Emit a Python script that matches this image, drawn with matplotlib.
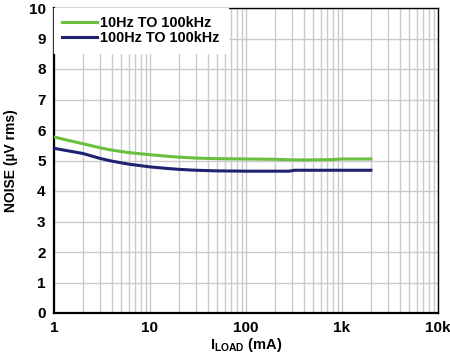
import matplotlib
matplotlib.use("Agg")
import matplotlib.pyplot as plt
from matplotlib.ticker import FixedLocator, NullFormatter

# load current (mA) and noise (uV rms)
load_10hz = [1, 1.5, 2, 3, 4, 6, 8, 10, 15, 20, 30, 50, 100, 200, 300, 500, 800, 1000, 2000]
noise_10hz = [5.77, 5.64, 5.55, 5.42, 5.34, 5.26, 5.22, 5.19, 5.14, 5.11, 5.08, 5.06, 5.05, 5.04, 5.02, 5.02, 5.03, 5.05, 5.05]

load_100hz = [1, 1.5, 2, 3, 4, 6, 8, 10, 15, 20, 30, 50, 100, 200, 280, 320, 500, 1000, 2000]
noise_100hz = [5.40, 5.30, 5.23, 5.07, 4.98, 4.88, 4.83, 4.79, 4.74, 4.71, 4.68, 4.66, 4.65, 4.65, 4.65, 4.68, 4.68, 4.68, 4.68]

x_ticks = [1, 10, 100, 1000, 10000]
x_labels = ["1", "10", "100", "1k", "10k"]
y_ticks = list(range(0, 11))

plt.rcParams['font.family'] = ['Liberation Sans', 'DejaVu Sans']
plt.rcParams['font.weight'] = 'bold'
plt.rcParams['mathtext.fontset'] = 'custom'
plt.rcParams['mathtext.bf'] = 'Liberation Sans:bold'
plt.rcParams['mathtext.rm'] = 'Liberation Sans:bold'

fig = plt.figure(figsize=(4.5, 3.59), dpi=100)
ax = fig.add_axes([54 / 450, 1 - 313 / 359, (438 - 54) / 450, (313 - 8) / 359])

green = '#6abf3e'
navy = '#1e2270'
ax.plot(load_10hz, noise_10hz, color=green, lw=2.2, label='10Hz TO 100kHz', zorder=3)
ax.plot(load_100hz, noise_100hz, color=navy, lw=2.2, label='100Hz TO 100kHz', zorder=3)

ax.set_xscale('log')
ax.set_xlim(1, 10000)
ax.set_ylim(0, 10)
ax.xaxis.set_major_locator(FixedLocator(x_ticks))
ax.set_xticklabels(x_labels)
minors = [m * d for d in [1, 10, 100, 1000] for m in range(2, 10)]
ax.xaxis.set_minor_locator(FixedLocator(minors))
ax.xaxis.set_minor_formatter(NullFormatter())
ax.set_yticks(y_ticks)

ax.grid(True, which='both', axis='x', color='#c9c9cf', lw=1.0)
ax.grid(True, which='major', axis='y', color='#c9c9cf', lw=1.0)
ax.set_axisbelow(True)
ax.tick_params(which='both', length=0, labelsize=11, pad=6)
for lab in ax.get_xticklabels() + ax.get_yticklabels():
    lab.set_fontweight('bold')

for s in ax.spines.values():
    s.set_color('black')
    s.set_linewidth(1.0)
ax.spines['left'].set_linewidth(1.6)
ax.spines['bottom'].set_linewidth(1.6)

ax.set_ylabel('NOISE (µV rms)', fontsize=10, fontweight='bold', labelpad=8)
ax.set_xlabel(r'I$_{\mathbf{LOAD}}$ (mA)', fontsize=10.5, fontweight='bold')
ax.xaxis.set_label_coords(0.5, -0.074, transform=ax.transAxes)
ax.xaxis.label.set_va('top')

leg = ax.legend(loc='upper left', frameon=True, fontsize=10.4, handlelength=2.4,
                borderaxespad=0.0, borderpad=0.55, labelspacing=0.1, handletextpad=0.25)
leg.get_frame().set_facecolor('white')
leg.get_frame().set_edgecolor('white')
leg.get_frame().set_alpha(1.0)
leg.get_frame().set_boxstyle('square', pad=0.0)
for t in leg.get_texts():
    t.set_fontweight('bold')

plt.savefig('out.png', dpi=100)
